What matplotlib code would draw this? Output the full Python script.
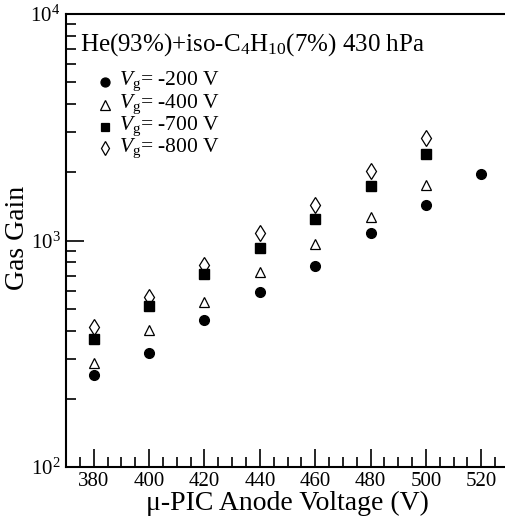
import matplotlib
matplotlib.use('Agg')
import matplotlib.pyplot as plt
from matplotlib.ticker import MultipleLocator, LogLocator, NullFormatter

plt.rcParams['font.family'] = ['Liberation Serif', 'DejaVu Serif']
plt.rcParams['mathtext.fontset'] = 'custom'
plt.rcParams['mathtext.rm'] = 'Liberation Serif'
plt.rcParams['mathtext.it'] = 'Liberation Serif:italic'

# anode voltage (V)
voltage = [380, 400, 420, 440, 460, 480, 500, 520]
voltage_short = [380, 400, 420, 440, 460, 480, 500]

# gas gain for each grid voltage
gain_200 = [254, 318, 444, 594, 774, 1076, 1431, 1960]
gain_400 = [287, 401, 537, 726, 968, 1270, 1763]
gain_700 = [368, 512, 714, 927, 1245, 1746, 2402]
gain_800 = [416, 565, 782, 1076, 1430, 2033, 2844]

labels = ['-200 V', '-400 V', '-700 V', '-800 V']

fig = plt.figure(figsize=(5.05, 5.22), dpi=100)
ax = fig.add_axes([66/505, 55/522, 443/505, 453/522])

ax.plot(voltage, gain_200, 'o', ms=7, mfc='k', mec='k', ls='none')
ax.plot(voltage_short, gain_400, '^', ms=7, mfc='none', mec='k', mew=0.9, ls='none')
ax.plot(voltage_short, gain_700, 's', ms=6.5, mfc='k', mec='k', ls='none')
ax.plot(voltage_short, gain_800, 'd', ms=8, mfc='none', mec='k', mew=0.9, ls='none')

ax.set_yscale('log')
ax.set_xlim(370, 530)
ax.set_ylim(100, 10000)

ax.xaxis.set_major_locator(MultipleLocator(20))
ax.xaxis.set_minor_locator(MultipleLocator(5))
ax.yaxis.set_minor_locator(LogLocator(base=10, subs=range(2, 10)))
ax.yaxis.set_minor_formatter(NullFormatter())

ax.tick_params(which='both', direction='in', top=False, right=False, width=1.2)
ax.tick_params(which='major', length=13, labelsize=15)
ax.tick_params(axis='y', which='major', labelsize=15, pad=4)
ax.tick_params(which='minor', length=7)
for side in ['left', 'bottom', 'top']:
    ax.spines[side].set_linewidth(1.5)
ax.spines['right'].set_visible(False)

ax.set_xlabel('\u03bc-PIC Anode Voltage (V)', fontsize=20, labelpad=0)
fig.text(18/505, 1 - 238/522, 'Gas Gain', rotation=90, fontsize=20,
         ha='center', va='center')

ax.text(80/505, 1 - 45/522, 'He(93%)+iso-C$_4$H$_{10}$(7%) 430 hPa',
        transform=fig.transFigure, fontsize=18, va='center', ha='left')

# legend drawn by hand as in the original
markers = [('o', 'k', 6.5), ('^', 'none', 6.5), ('s', 'k', 6), ('d', 'none', 7.5)]
ys = [81.7, 104.5, 126.7, 148.3]
for (m, fc, s), lab, y in zip(markers, labels, ys):
    ax.plot([105/505], [1 - y/522], m, ms=s, mfc=fc, mec='k', mew=0.9,
            transform=fig.transFigure, clip_on=False)
    ax.text(119/505, 1 - y/522, '$V_{\\rm g}$= ' + lab, transform=fig.transFigure,
            fontsize=15.5, va='center', ha='left')

fig.savefig('out.png', dpi=100)
